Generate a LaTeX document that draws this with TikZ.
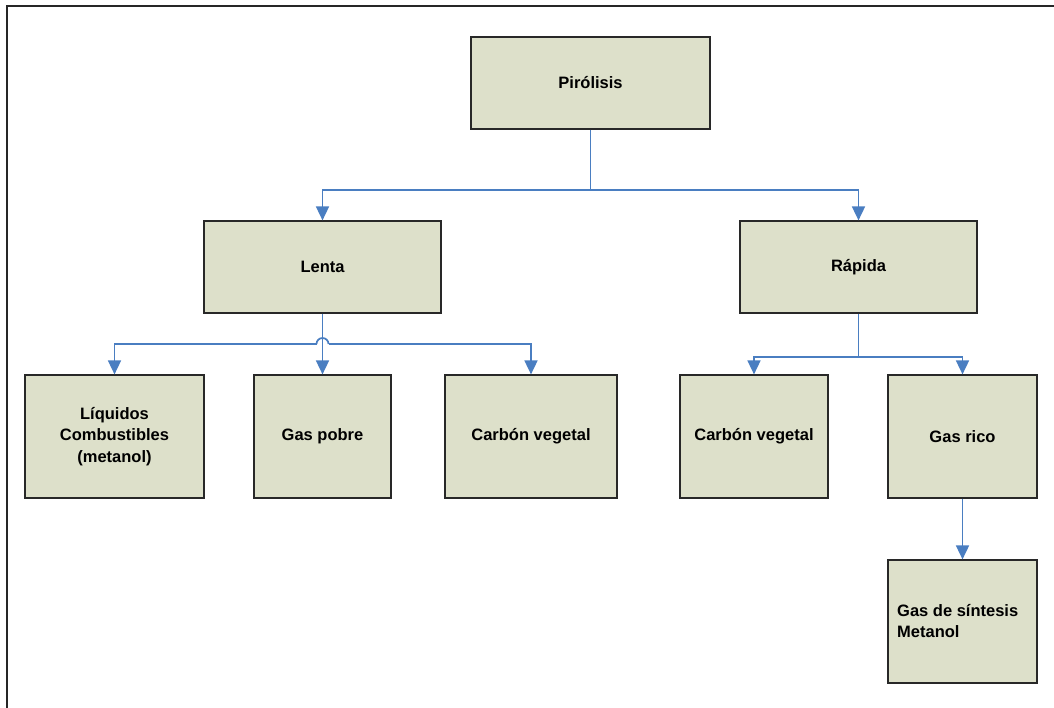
\documentclass[tikz,border=0pt]{standalone}
\usepackage{fontspec}
\setmainfont{Liberation Sans}
\usetikzlibrary{arrows.meta}
\definecolor{boxfill}{RGB}{221,224,202}
\definecolor{boxline}{RGB}{40,40,40}
\definecolor{conncol}{RGB}{74,126,193}
\begin{document}
\begin{tikzpicture}[x=1pt,y=-1pt,
  box/.style={draw=boxline,line width=1.2pt,fill=boxfill,inner sep=0pt,
    font=\fontsize{16.5}{21.5}\selectfont\bfseries},
  conn/.style={draw=conncol,line width=1.7pt},
  arr/.style={conn,-{Triangle[length=14pt,width=13pt]}}]
\useasboundingbox (0,0) rectangle (1054,708);
% frame
\draw[line width=2pt,draw=black!85] (7,708) -- (7,6) -- (1054,6);
% boxes
\node[box,minimum width=239pt,minimum height=92pt] (pir) at (590.5,83) {Pirólisis};
\node[box,minimum width=237pt,minimum height=92pt] (lenta) at (322.5,267) {Lenta};
\node[box,minimum width=237pt,minimum height=92pt] (rap) at (858.5,267) {Rápida};
\node[box,minimum width=179pt,minimum height=123pt,align=center] (liq) at (114.5,436.5) {Líquidos\\Combustibles\\(metanol)};
\node[box,minimum width=137pt,minimum height=123pt] (gpobre) at (322.5,436.5) {Gas pobre};
\node[box,minimum width=172pt,minimum height=123pt] (carb1) at (531,436.5) {Carbón vegetal};
\node[box,minimum width=148pt,minimum height=123pt] (carb2) at (754,436.5) {Carbón vegetal};
\node[box,minimum width=149pt,minimum height=123pt] (grico) at (962.5,436.5) {Gas rico};
\node[box,minimum width=149pt,minimum height=123pt] (gsin) at (962.5,621.5) {};
\node[font=\fontsize{16.5}{21.5}\selectfont\bfseries,align=left,anchor=west,inner sep=0pt] (gsintxt) at (897,621) {Gas de síntesis\\Metanol};
% connectors
\coordinate (jP) at (590.5,190);
\draw[conn] (pir.south) -- (jP);
\draw[arr] (jP) -| (lenta.north);
\draw[arr] (jP) -| (rap.north);
\coordinate (jL) at (322.5,344);
\draw[arr] (lenta.south) -- (gpobre.north);
\draw[arr] ([xshift=-6pt]jL) -| (liq.north);
\draw[arr] ([xshift=6pt]jL) -| (carb1.north);
\draw[conn] ([xshift=-6pt]jL) arc[start angle=180,end angle=0,radius=6pt];
\coordinate (jR) at (858.5,357);
\draw[conn] (rap.south) -- (jR);
\draw[arr] (jR) -| (carb2.north);
\draw[arr] (jR) -| (grico.north);
\draw[arr] (grico.south) -- (gsin.north);
\end{tikzpicture}
\end{document}
